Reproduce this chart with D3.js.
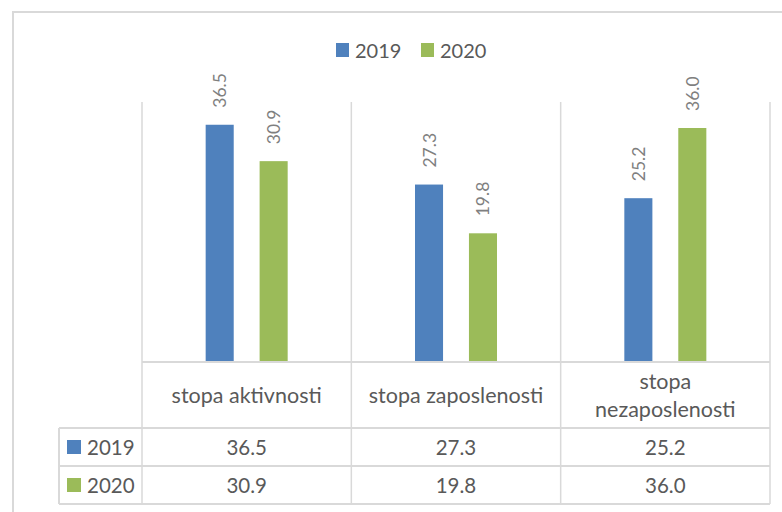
<!DOCTYPE html>
<html>
<head>
<meta charset="utf-8">
<script src="https://cdn.jsdelivr.net/npm/d3@7"></script>
<style>
  body { margin: 0; background: #fff; }
  text { font-family: Lato, "Open Sans", sans-serif; }
</style>
</head>
<body>
<svg id="chart" width="782" height="512"></svg>
<script>
// data
const categories = ["stopa aktivnosti", "stopa zaposlenosti", "stopa nezaposlenosti"]
const series = ["2019", "2020"]
const values2019 = [36.5, 27.3, 25.2]
const values2020 = [30.9, 19.8, 36.0]
const colours = ["#4f81bd", "#9bbb59"]

const values = [values2019, values2020]
const grid = "#d9d9d9"

let svg = d3.select("#chart")

// outer chart frame (runs off the right and bottom)
svg.append("rect")
   .attr("x", 13).attr("y", 12)
   .attr("width", 820).attr("height", 560)
   .attr("fill", "none")
   .attr("stroke", grid)
   .attr("stroke-width", 2)

let plot = {left: 142, right: 770, top: 102, bottom: 362}

let x0 = d3.scaleBand()
           .domain(categories)
           .range([plot.left, plot.right])

let x1 = d3.scaleBand()
           .domain(series)
           .range([0, x0.bandwidth()])
           .paddingInner(0.48)
           .paddingOuter(1.18)

let y = d3.scaleLinear()
          .domain([0, 40])
          .range([plot.bottom, plot.top])

// vertical separators between categories
let bounds = categories.map(c => x0(c)).concat([plot.right])
svg.append("g")
   .selectAll("line")
   .data(bounds)
   .join("line")
   .attr("x1", d => d).attr("x2", d => d)
   .attr("y1", plot.top).attr("y2", 504)
   .attr("stroke", grid)
   .attr("stroke-width", 1.5)

// bars
let groups = svg.append("g")
                .selectAll("g")
                .data(categories)
                .join("g")
                .attr("transform", d => "translate(" + x0(d) + ",0)")

groups.selectAll("rect")
      .data((c, i) => series.map((s, j) => ({s: s, v: values[j][i], j: j})))
      .join("rect")
      .attr("x", d => x1(d.s))
      .attr("width", x1.bandwidth())
      .attr("y", d => y(d.v))
      .attr("height", d => y(0) - y(d.v))
      .attr("fill", d => colours[d.j])

// rotated value labels
groups.selectAll("text")
      .data((c, i) => series.map((s, j) => ({s: s, v: values[j][i]})))
      .join("text")
      .attr("transform", d => "translate(" + (x1(d.s) + x1.bandwidth() / 2) + "," + (y(d.v) - 17) + ") rotate(-90)")
      .attr("dominant-baseline", "central")
      .attr("font-size", 17.5)
      .attr("fill", "#7f7f7f")
      .text(d => d.v.toFixed(1))

// data table
let rows = [362, 428, 466, 504]
let tableLeft = 59
let hlines = [
  {x1: plot.left, x2: plot.right, y: rows[0]},
  {x1: tableLeft, x2: plot.right, y: rows[1]},
  {x1: tableLeft, x2: plot.right, y: rows[2]},
  {x1: tableLeft, x2: plot.right, y: rows[3]}
]
svg.append("g")
   .selectAll("line")
   .data(hlines)
   .join("line")
   .attr("x1", d => d.x1).attr("x2", d => d.x2)
   .attr("y1", d => d.y).attr("y2", d => d.y)
   .attr("stroke", grid)
   .attr("stroke-width", 2)

svg.append("line")
   .attr("x1", tableLeft).attr("x2", tableLeft)
   .attr("y1", rows[1]).attr("y2", rows[3])
   .attr("stroke", grid)
   .attr("stroke-width", 2)

// category headers (wrap when too wide)
let head = svg.append("g")
categories.forEach(c => {
  let cx = x0(c) + x0.bandwidth() / 2
  let t = head.append("text")
              .attr("text-anchor", "middle")
              .attr("font-size", 21.5)
              .attr("fill", "#595959")
  let lines = c.length > 18 ? c.split(" ") : [c]
  let mid = (rows[0] + rows[1]) / 2
  lines.forEach((l, i) => {
    t.append("tspan")
     .attr("x", cx)
     .attr("y", mid + (i - (lines.length - 1) / 2) * 28)
     .attr("dominant-baseline", "central")
     .text(l)
  })
})

// series rows
series.forEach((s, j) => {
  let mid = (rows[j + 1] + rows[j + 2]) / 2
  svg.append("rect")
     .attr("x", 67).attr("y", mid - 7)
     .attr("width", 14).attr("height", 14)
     .attr("fill", colours[j])
  svg.append("text")
     .attr("x", 87).attr("y", mid)
     .attr("dominant-baseline", "central")
     .attr("font-size", 20.5)
     .attr("fill", "#595959")
     .text(s)
  categories.forEach((c, i) => {
    svg.append("text")
       .attr("x", x0(c) + x0.bandwidth() / 2)
       .attr("y", mid)
       .attr("text-anchor", "middle")
       .attr("dominant-baseline", "central")
       .attr("font-size", 20.5)
       .attr("fill", "#595959")
       .text(values[j][i].toFixed(1))
  })
})

// legend
let legend = svg.append("g")
let lx = [336, 421]
series.forEach((s, j) => {
  legend.append("rect")
        .attr("x", lx[j]).attr("y", 43)
        .attr("width", 13).attr("height", 14)
        .attr("fill", colours[j])
  legend.append("text")
        .attr("x", lx[j] + 19).attr("y", 50)
        .attr("dominant-baseline", "central")
        .attr("font-size", 20)
        .attr("fill", "#595959")
        .text(s)
})
</script>
</body>
</html>
